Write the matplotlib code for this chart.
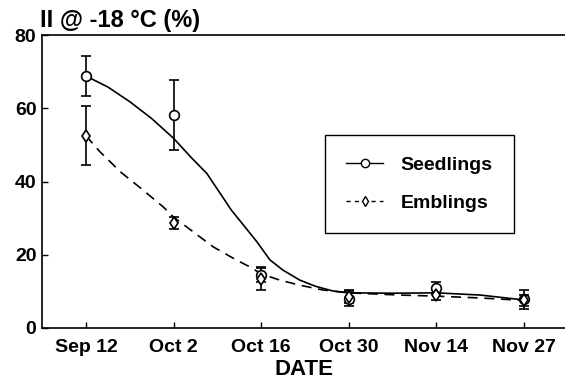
import matplotlib
matplotlib.use("Agg")
import matplotlib.pyplot as plt

plt.rcParams['font.family'] = ['Liberation Sans', 'DejaVu Sans']
plt.rcParams['font.weight'] = 'bold'

dates = ["Sep 12", "Oct 2", "Oct 16", "Oct 30", "Nov 14", "Nov 27"]
seed_vals = [68.8, 58.2, 14.6, 8.0, 11.0, 7.8]
seed_err = [5.5, 9.6, 2.0, 2.0, 1.6, 2.7]
emb_vals = [52.5, 28.7, 13.5, 8.5, 9.0, 7.6]
emb_err = [8.0, 1.6, 3.0, 1.8, 1.4, 1.5]

# fitted curves (x in category units)
seed_fit_x = [0.0, 0.25, 0.5, 0.75, 1.0, 1.2, 1.38, 1.66, 1.95, 2.10, 2.25, 2.44,
              2.62, 2.82, 3.0, 3.5, 4.0, 4.5, 4.95]
seed_fit_y = [68.8, 65.8, 61.8, 57.2, 51.8, 46.6, 42.2, 32.2, 23.6, 18.6, 15.8, 13.1,
              11.4, 10.1, 9.6, 9.5, 9.6, 9.0, 7.8]
emb_fit_x = [0.0, 0.16, 0.4, 0.65, 0.88, 1.0, 1.3, 1.45, 1.7, 1.87, 2.0, 2.21,
             2.44, 2.7, 3.0, 3.58, 4.0, 4.5, 4.95]
emb_fit_y = [52.5, 48.1, 42.5, 37.7, 33.1, 30.3, 24.9, 22.2, 18.8, 16.7, 14.8, 13.1,
             11.7, 10.4, 9.6, 9.0, 8.7, 8.2, 7.6]

fig = plt.figure(figsize=(5.65, 3.87), dpi=100)
ax = fig.add_axes([42/565, 1-328/387, 1-42/565, (328-35)/387])

xs = list(range(len(dates)))
ax.plot(seed_fit_x, seed_fit_y, color='black', lw=1.2, ls='-')
ax.plot(emb_fit_x, emb_fit_y, color='black', lw=1.2, ls=(0, (6, 4)))

ax.errorbar(xs, seed_vals, yerr=seed_err, fmt='o', mfc='white', mec='black',
            ms=7, mew=1.2, ecolor='black', elinewidth=1.2, capsize=3.5, capthick=1.2, zorder=3)
ax.errorbar(xs, emb_vals, yerr=emb_err, fmt='d', mfc='white', mec='black',
            ms=6, mew=1.2, ecolor='black', elinewidth=1.2, capsize=3.5, capthick=1.2, zorder=3)

# legend proxies
h1, = ax.plot([], [], color='black', lw=1.0, ls='-', marker='o', mfc='white', mec='black', ms=6)
h2, = ax.plot([], [], color='black', lw=1.0, ls=(0, (3, 3)), marker='d', mfc='white', mec='black', ms=5)
leg = ax.legend([h1, h2], ["Seedlings", "Emblings"], loc='upper left',
                bbox_to_anchor=((325-42)/523, (328-135)/293), frameon=True,
                fancybox=False, edgecolor='black', fontsize=14, handlelength=1.9,
                borderpad=1.1, labelspacing=1.05, handletextpad=0.9, borderaxespad=0)
leg.get_frame().set_linewidth(1.0)
leg.get_frame().set_facecolor('white')
leg.get_frame().set_alpha(1)

ax.set_xlim(-0.502, 5.47)
ax.set_ylim(0, 80)
ax.set_xticks(xs)
ax.set_xticklabels(dates, fontsize=14, fontweight='bold')
ax.set_yticks([0, 20, 40, 60, 80])
ax.set_yticklabels(["0", "20", "40", "60", "80"], fontsize=14, fontweight='bold')
ax.tick_params(axis='x', direction='in', length=4, width=1, pad=8)
ax.tick_params(axis='y', direction='in', length=4, width=1, pad=4)
ax.spines['right'].set_visible(False)
for s in ['left', 'top', 'bottom']:
    ax.spines[s].set_linewidth(1.2)

ax.set_xlabel("DATE", fontsize=16, fontweight='bold', labelpad=2)
fig.text(40/565, 1-27/387, "II @ -18 °C (%)", fontsize=17, fontweight='bold',
         ha='left', va='baseline')

fig.savefig("out.png", dpi=100)
